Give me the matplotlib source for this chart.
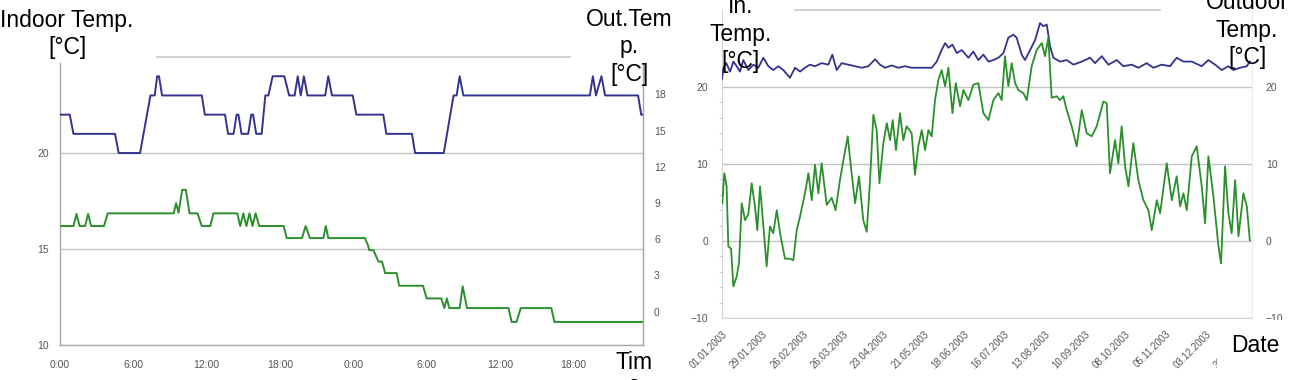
import matplotlib
matplotlib.use("Agg")
import matplotlib.pyplot as plt
import matplotlib.dates as mdates
import matplotlib.transforms as mtransforms
from matplotlib.lines import Line2D
import datetime as dt

plt.rcParams['font.family'] = ['Liberation Sans', 'DejaVu Sans']

# ---------------- data: left panel (two days, hourly) ----------------
hour_ticks = [0, 6, 12, 18, 24, 30, 36, 42]
hour_labels = ['0:00', '6:00', '12:00', '18:00', '0:00', '6:00', '12:00', '18:00']

in_hours = [0, 0.8, 1.1, 4.5, 4.8, 6.55, 7.4, 7.75, 7.95, 8.1, 8.35, 11.6, 11.85, 13.5, 13.75,
            14.2, 14.45, 14.6, 14.85, 15.4, 15.65, 15.8, 16.05, 16.5, 16.8, 17.05, 17.4, 18.35,
            18.75, 19.2, 19.45, 19.7, 19.95, 20.25, 21.7, 21.95, 22.25, 23.95, 24.25, 26.45,
            26.7, 28.8, 29.05, 31.4, 32.2, 32.45, 32.7, 33.0, 43.35, 43.6, 43.85, 44.3, 44.6,
            47.3, 47.55, 47.7]
in_temp = [22, 22, 21, 21, 20, 20, 23, 23, 24, 24, 23, 23, 22, 22, 21,
           21, 22, 22, 21, 21, 22, 22, 21, 21, 23, 23, 24, 24,
           23, 23, 24, 23, 24, 23, 23, 24, 23, 23, 22, 22,
           21, 21, 20, 20, 23, 23, 24, 23, 23, 24, 23, 24, 23,
           23, 22, 22]

out_hours = [0, 1.1, 1.35, 1.6, 2.05, 2.3, 2.55, 3.6, 3.9, 9.3, 9.5, 9.7, 10.0, 10.3, 10.6,
             11.25, 11.6, 12.3, 12.55, 14.5, 14.75, 15.0, 15.25, 15.5, 15.75, 16.0, 16.3,
             18.3, 18.55, 19.8, 20.1, 20.45, 21.55, 21.75, 21.95, 24.95, 25.2, 25.3, 25.65,
             26.05, 26.35, 26.6, 27.55, 27.75, 29.7, 30.0, 31.2, 31.45, 31.65, 31.85, 32.7,
             32.95, 33.3, 36.7, 36.95, 37.35, 37.7, 40.2, 40.45, 47.7]
out_temp = [7.1, 7.1, 8.1, 7.1, 7.1, 8.1, 7.1, 7.1, 8.15, 8.15, 9.0, 8.2, 10.1, 10.1, 8.15,
            8.15, 7.1, 7.1, 8.15, 8.15, 7.1, 8.15, 7.1, 8.15, 7.1, 8.15, 7.1,
            7.1, 6.1, 6.1, 7.1, 6.1, 6.1, 7.1, 6.1, 6.1, 5.5, 5.1, 5.1,
            4.15, 4.15, 3.2, 3.2, 2.15, 2.15, 1.1, 1.1, 0.3, 1.1, 0.3, 0.3,
            2.1, 0.3, 0.3, -0.85, -0.85, 0.3, 0.3, -0.85, -0.85]

# ---------------- data: right panel (one year, daily) ----------------
date_tick_labels = ['01.01.2003', '29.01.2003', '26.02.2003', '26.03.2003', '23.04.2003',
                    '21.05.2003', '18.06.2003', '16.07.2003', '13.08.2003', '10.09.2003',
                    '08.10.2003', '05.11.2003', '03.12.2003', '31.12.2003']

yr_in_days = [0, 1, 3, 5.6, 7.9, 10.2, 12.5, 14.8, 18.3, 21.8, 25.2, 28.7, 32.2, 35.6, 39.1,
              42.6, 47.2, 50.7, 54.2, 57.6, 61.1, 64.6, 69.2, 73.8, 76.6, 79.6, 83.1, 87.7,
              92.4, 97.0, 101.6, 106.3, 109.7, 113.2, 117.8, 122.5, 127.1, 131.7, 136.3, 141.0,
              145.6, 149.1, 152.5, 154.9, 157.2, 160.0, 163.0, 166.4, 171.1, 174.5, 178.0,
              181.5, 185.0, 188.4, 191.9, 195.4, 198.8, 202.3, 204.6, 208.1, 210.4, 213.9,
              217.4, 220.8, 223.1, 225.5, 227.8, 230.1, 234.7, 239.4, 244.0, 249.8, 255.6,
              259.0, 263.7, 268.3, 274.1, 278.7, 284.5, 289.1, 294.9, 299.5, 305.3, 311.1,
              315.7, 320.4, 326.2, 333.1, 337.7, 342.4, 347.0, 351.6, 355.1, 359.7, 364.4, 366.5]
yr_in_temp = [21.0, 22.5, 23.1, 22.0, 23.3, 22.7, 22.0, 23.5, 22.2, 22.9, 22.5, 23.8, 22.7, 22.2, 22.7,
              22.2, 21.2, 22.5, 22.0, 22.5, 22.9, 22.7, 23.1, 22.9, 24.2, 22.2, 23.1, 22.9,
              22.7, 22.5, 22.7, 23.6, 22.9, 22.5, 22.8, 22.5, 22.7, 22.5, 22.5, 22.5,
              22.5, 23.3, 24.8, 25.7, 25.1, 25.5, 24.4, 24.8, 23.8, 24.6, 23.5,
              24.2, 23.3, 23.5, 23.8, 24.4, 26.4, 26.8, 26.4, 24.2, 23.5, 24.8,
              26.1, 28.3, 27.9, 28.1, 25.3, 23.8, 23.3, 23.5, 22.9, 23.3, 23.8,
              23.1, 24.0, 22.9, 23.5, 22.7, 22.9, 22.5, 23.1, 22.5, 22.9, 22.7,
              23.8, 23.3, 23.3, 22.7, 23.5, 22.9, 22.2, 22.7, 22.2, 22.5, 22.7, 23.3]

yr_out_days = [0.2, 1.6, 3.2, 4.4, 6.3, 7.9, 10.2, 11.8, 13.7, 16.0, 18.3, 20.6, 22.9, 24.5, 26.4,
               28.7, 31.0, 33.3, 35.6, 38.0, 40.3, 43.75, 47.2, 49.5, 51.9, 54.2, 57.6, 60.0,
               62.3, 64.6, 66.9, 69.2, 72.7, 76.2, 78.9, 81.9, 84.3, 87.3, 90.0, 92.4, 95.1,
               98.1, 100.5, 102.8, 105.1, 107.4, 109.3, 112.0, 114.4, 116.7, 118.5, 120.8,
               123.6, 125.9, 128.2, 131.7, 134.0, 136.3, 138.7, 141.0, 143.3, 145.6, 147.9,
               150.2, 152.5, 154.9, 157.2, 160.0, 162.3, 165.3, 167.6, 171.1, 174.5, 178.0,
               181.5, 185.0, 188.4, 191.9, 194.2, 196.5, 198.8, 201.2, 203.5, 205.8, 209.3,
               211.6, 215.0, 218.5, 222.0, 224.3, 226.6, 228.9, 232.4, 234.7, 237.0, 239.4,
               242.8, 246.3, 249.8, 253.2, 256.7, 260.2, 264.8, 267.1, 269.4, 272.9, 275.2,
               277.5, 279.9, 282.2, 285.6, 289.1, 292.6, 296.1, 298.4, 301.9, 304.2, 308.8,
               312.3, 315.7, 318.1, 320.4, 322.7, 326.2, 329.6, 333.1, 335.4, 337.7, 341.2,
               344.7, 346.5, 349.3, 351.6, 353.9, 356.3, 358.6, 362.0, 364.4, 366.5]
yr_out_temp = [4.9, 8.8, 7.1, -0.7, -1.0, -5.9, -4.6, -2.9, 4.9, 2.7, 3.5, 7.5, 4.5, 1.4, 7.1,
               2.0, -3.3, 1.9, 1.0, 4.0, 1.0, -2.3, -2.3, -2.5, 1.4, 3.2, 6.2, 8.8,
               5.3, 9.9, 6.2, 10.1, 4.7, 5.6, 4.0, 7.9, 10.5, 13.6, 8.8, 4.9, 8.4,
               2.7, 1.2, 7.9, 16.4, 14.4, 7.5, 12.7, 15.3, 13.1, 15.7, 11.8,
               16.6, 13.1, 14.9, 14.0, 8.6, 12.3, 14.4, 11.8, 14.4, 13.6, 18.3,
               20.9, 22.2, 20.1, 22.5, 16.6, 20.5, 17.5, 19.6, 18.3, 20.3, 20.5,
               16.6, 15.7, 18.3, 19.2, 18.3, 24.0, 20.1, 23.1, 20.5, 19.6, 19.2,
               18.3, 22.7, 24.8, 25.7, 24.0, 26.4, 18.6, 18.8, 18.3, 18.8, 17.0,
               14.9, 12.3, 17.0, 14.0, 13.6, 14.9, 18.1, 17.9, 8.8, 13.1, 10.1,
               14.9, 9.7, 7.1, 12.7, 7.9, 5.3, 4.0, 1.4, 5.3, 3.6, 10.1,
               5.3, 8.4, 4.5, 6.2, 4.0, 11.0, 12.3, 7.1, 2.3, 11.0, 5.8,
               -0.7, -2.9, 9.7, 3.6, 1.0, 7.9, 0.6, 6.2, 4.5, 0.1]

BLUE = '#33338f'
GREEN = '#2b8f2b'
GRID = '#c4c4c4'
SPINE = '#a8a8a8'
TICKC = '#555555'

fig = plt.figure(figsize=(12.99, 3.80), dpi=100)
W, H = 1299.0, 380.0


def fx(px):
    return px / W


def fy(py):
    return 1 - py / H


# ---------------- left panel ----------------
axL = fig.add_axes([fx(60), fy(345), fx(643 - 60), (345 - 63) / H])
axL.set_xlim(0, 47.7)
axL.set_ylim(10, 24.69)
axL.set_yticks([10, 15, 20])
axL.set_xticks(hour_ticks)
axL.set_xticklabels(hour_labels)
axL.grid(axis='y', color=GRID, lw=1.0)
axL.set_axisbelow(True)
axL.spines['top'].set_visible(False)
for s in ['left', 'bottom', 'right']:
    axL.spines[s].set_color(SPINE)
    axL.spines[s].set_linewidth(1.0)
axL.tick_params(length=0, labelsize=7.5, labelcolor=TICKC)
axL.tick_params(axis='x', pad=11)
axL.tick_params(axis='y', pad=8)
axL.plot(in_hours, in_temp, color=BLUE, lw=1.4, zorder=3)

axR = axL.twinx()
axR.set_ylim(-2.76, 20.61)
axR.set_yticks([0, 3, 6, 9, 12, 15, 18])
for s in ['top', 'left', 'bottom']:
    axR.spines[s].set_visible(False)
axR.spines['right'].set_color(SPINE)
axR.tick_params(length=0, labelsize=7.5, labelcolor=TICKC, pad=8)
axR.plot(out_hours, out_temp, color=GREEN, lw=1.4, zorder=3)

# ---------------- right panel ----------------
d0 = mdates.date2num(dt.datetime(2003, 1, 1))
ax2 = fig.add_axes([fx(722), fy(318), fx(1252 - 722), (318 - 10) / H])
ax2.set_xlim(d0, d0 + 368)
ax2.set_ylim(-10, 30)
ax2.set_yticks([-10, 0, 10, 20])
ax2.set_yticks([-8, -6, -4, -2, 2, 4, 6, 8, 12, 14, 16, 18], minor=True)
tick_dates = [mdates.date2num(dt.datetime.strptime(s, '%d.%m.%Y')) for s in date_tick_labels]
ax2.set_xticks(tick_dates)
ax2.set_xticklabels(date_tick_labels, rotation=45, ha='right', va='top', rotation_mode='anchor')
shift = mtransforms.ScaledTranslation(-17 / 100, -4 / 100, fig.dpi_scale_trans)
for lab in ax2.get_xticklabels():
    lab.set_transform(lab.get_transform() + shift)
ax2.grid(axis='y', which='major', color=GRID, lw=1.0)
ax2.set_axisbelow(True)
ax2.spines['top'].set_visible(False)
ax2.spines['right'].set_color('#ececec')
for s in ['left', 'bottom']:
    ax2.spines[s].set_color('#d4d4d4')
ax2.tick_params(axis='y', which='major', length=0, labelsize=7.5, labelcolor=TICKC, pad=10,
                labelright=True)
ax2.tick_params(axis='y', which='minor', length=2, color='#cccccc', width=0.8)
ax2.tick_params(axis='x', length=0, labelsize=7.0, labelcolor=TICKC, pad=8)
ax2.plot([d0 + d for d in yr_in_days], yr_in_temp, color=BLUE, lw=1.3, zorder=3)
ax2.plot([d0 + d for d in yr_out_days], yr_out_temp, color=GREEN, lw=1.3, zorder=3)

# decorative top rules
fig.add_artist(Line2D([fx(157), fx(570)], [fy(57), fy(57)], color='#c8c8c8', lw=1.2))
fig.add_artist(Line2D([fx(795), fx(1160)], [fy(10), fy(10)], color='#c8c8c8', lw=1.2))

# ---------------- axis titles ----------------
TS = 16.5
LS = 1.25
fig.text(fx(67), fy(54), 'Indoor Temp.\n[°C]', ha='center', va='baseline', fontsize=TS,
         linespacing=LS)
fig.text(fx(629), fy(81), 'Out.Tem\np.\n[°C]', ha='center', va='baseline', fontsize=TS,
         linespacing=LS)
fig.text(fx(634), fy(392), 'Tim\ne', ha='center', va='baseline', fontsize=TS, linespacing=1.0)
fig.text(fx(741), fy(68), 'In.\nTemp.\n[°C]', ha='center', va='baseline', fontsize=TS,
         linespacing=LS)
fig.text(fx(1247), fy(64), 'Outdoor\nTemp.\n[°C]', ha='center', va='baseline', fontsize=TS,
         linespacing=LS)
fig.text(fx(1255), fy(352), 'Date', ha='center', va='baseline', fontsize=TS,
         bbox=dict(facecolor='white', edgecolor='none', pad=10))

fig.savefig('out.png', dpi=100, facecolor='white')
